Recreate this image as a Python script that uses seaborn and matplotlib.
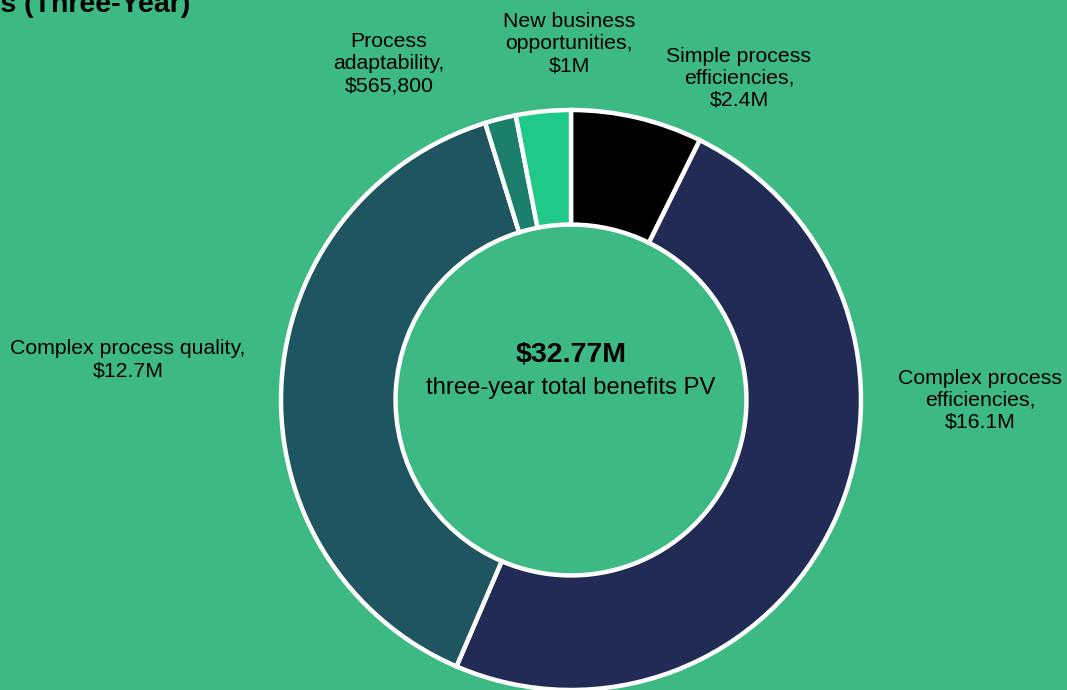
import matplotlib
matplotlib.use("Agg")
import matplotlib.pyplot as plt
import seaborn as sns

# Benefit categories (clockwise from 12 o'clock) and present values in $M
categories = [
    "Simple process efficiencies",
    "Complex process efficiencies",
    "Complex process quality",
    "Process adaptability",
    "New business opportunities",
]
values_m = [2.4, 16.1, 12.7, 0.5658, 1.0]
value_labels = ["$2.4M", "$16.1M", "$12.7M", "$565,800", "$1M"]
label_lines = [
    "Simple process\nefficiencies,",
    "Complex process\nefficiencies,",
    "Complex process quality,",
    "Process\nadaptability,",
    "New business\nopportunities,",
]
colors = ["#000000", "#212B55", "#1F5561", "#1C7F6C", "#20C987"]
background = "#3DB983"

# Label anchor points in axis units (radius = 1)
label_xy = [(0.579, 1.110), (1.410, 0.0), (-1.528, 0.138), (-0.628, 1.159), (-0.007, 1.228)]

total = sum(values_m)

sns.set_style("white")
plt.rcParams["font.family"] = ["Liberation Sans", "DejaVu Sans"]

W, H = 1067, 690
fig = plt.figure(figsize=(W / 100, H / 100), dpi=100, facecolor=background)

cx, cy, R = 571, 400, 290
ax = fig.add_axes([(cx - R) / W, (H - cy - R) / H, 2 * R / W, 2 * R / H])
ax.set_facecolor(background)

ax.pie(
    values_m,
    colors=colors,
    startangle=90,
    counterclock=False,
    radius=1.0,
    wedgeprops=dict(width=0.395, edgecolor="white", linewidth=3.2),
)
ax.set_xlim(-1, 1)
ax.set_ylim(-1, 1)
ax.set_aspect("equal")
ax.axis("off")

for text, val, (x, y) in zip(label_lines, value_labels, label_xy):
    ax.text(x, y, f"{text}\n{val}", ha="center", va="center", fontsize=15.3,
            color="black", linespacing=1.2)

ax.text(0, 0.155, f"${total:.2f}M", ha="center", va="center", fontsize=20.5,
        fontweight="bold", color="black")
ax.text(0, 0.04, "three-year total benefits PV", ha="center", va="center",
        fontsize=17.2, color="black")

fig.text(190 / W, (H - 12) / H, "Total Benefits (Three-Year)", ha="right",
         va="baseline", fontsize=20.5, fontweight="bold", color="black")

fig.savefig("out.png", dpi=100, facecolor=background)
